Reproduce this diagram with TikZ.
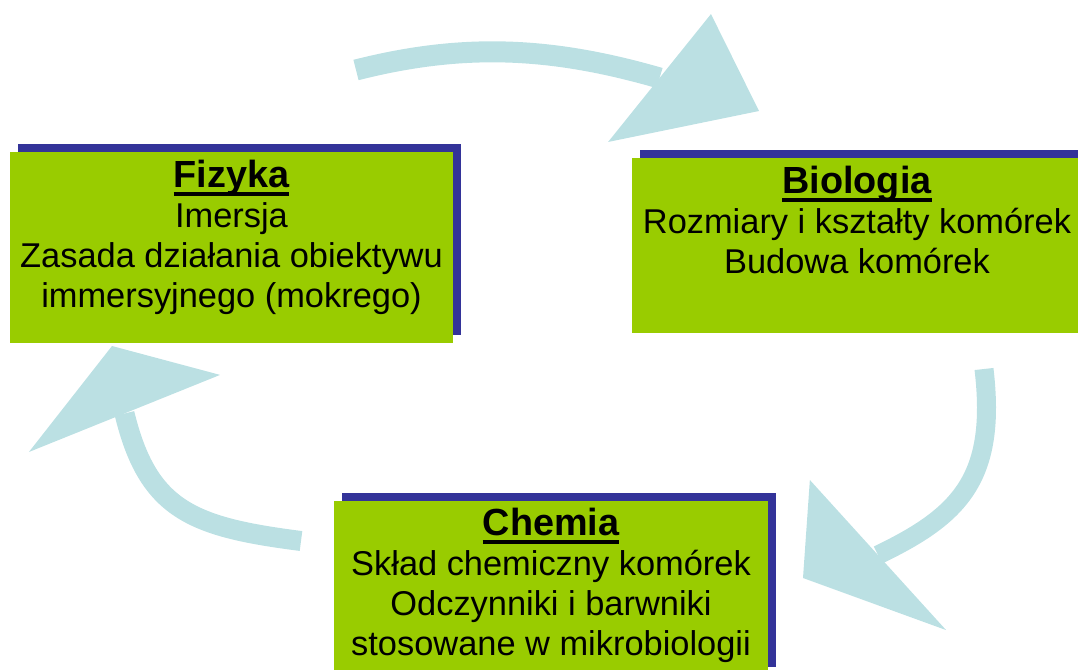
\documentclass[tikz,border=0pt]{standalone}
\usepackage{fontspec}
\setmainfont{Liberation Sans}
\usetikzlibrary{arrows.meta,shadows}

\definecolor{boxgreen}{RGB}{153,204,0}
\definecolor{shadowblue}{RGB}{51,51,153}
\definecolor{flowblue}{RGB}{187,224,227}

\newcommand{\ulhead}[1]{{\fontsize{18.9}{20}\selectfont\setbox0\hbox{\bfseries #1}\rlap{\rule[-3.9pt]{\wd0}{1.7pt}}\box0}}

\tikzset{
	subject/.style={fill=boxgreen, inner sep=0pt, outer sep=0pt,
		drop shadow={shadow xshift=4pt, shadow yshift=4pt, fill=shadowblue, opacity=1}},
	topics/.style={anchor=north, align=center, inner sep=0pt, font=\fontsize{17.2}{20}\selectfont},
	flow/.style={draw=flowblue, line width=10.5pt}
}

\begin{document}
\begin{tikzpicture}[x=0.5pt, y=-0.5pt]
	\useasboundingbox (0,0) rectangle (1078,670);
	\clip (0,0) rectangle (1078,670);

	% curved arrows
	\coordinate (s1) at (356,70);
	\coordinate (b1) at (659.5,78);
	\coordinate (t1) at (759,111);
	\coordinate (s2) at (984,369);
	\coordinate (b2) at (878,555);
	\coordinate (t2) at (803,578);
	\coordinate (s3) at (301,541);
	\coordinate (b3) at (124.5,413.5);
	\coordinate (t3) at (112,346);

	\draw[flow, -{Triangle[length=52.4pt, width=76.9pt, slant=0.373, line width=0pt]}]
		(s1) .. controls (464,42.5) and (552,47) .. (b1) -- (t1);
	\draw[flow, line width=9.5pt, -{Triangle[length=39.2pt, width=91.7pt, slant=-0.47, line width=0pt]}]
		(s2) .. controls (997,479) and (959,516) .. (b2) -- (t2);
	\draw[flow, line width=10pt, -{Triangle[length=34.3pt, width=101pt, slant=-0.203, line width=0pt]}]
		(s3) .. controls (192,527) and (148,510) .. (b3) -- (t3);

	% boxes
	\node[subject, minimum width=221.5pt, minimum height=95.5pt] (fizyka) at (231.5,247.5) {};
	\node[subject, minimum width=225pt, minimum height=87.5pt] (biologia) at (857,245.5) {};
	\node[subject, minimum width=217pt, minimum height=87pt] (chemia) at (551,588) {};

	\node[topics] (fizykatxt) at ([yshift=-4.0pt]fizyka.north)
		{\ulhead{Fizyka}\\Imersja\\Zasada działania obiektywu\\immersyjnego (mokrego)};
	\node[topics] (biologiatxt) at ([yshift=-4.0pt]biologia.north)
		{\ulhead{Biologia}\\Rozmiary i kształty komórek\\Budowa komórek};
	\node[topics] (chemiatxt) at ([yshift=-3.5pt]chemia.north)
		{\ulhead{Chemia}\\Skład chemiczny komórek\\Odczynniki i barwniki\\stosowane w mikrobiologii};
\end{tikzpicture}
\end{document}
